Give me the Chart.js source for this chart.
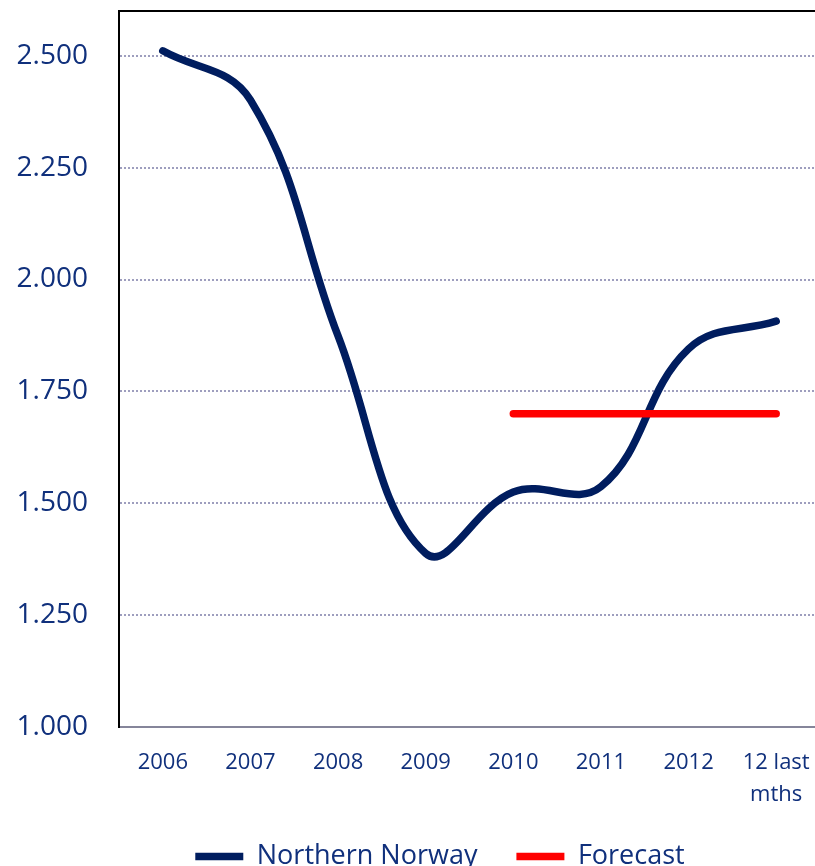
<!DOCTYPE html>
<html lang="en">
<head>
  <meta charset="UTF-8">
  <title>Northern Norway</title>
  <style>
    html, body {
      margin: 0;
      padding: 0;
      background: #fff;
      overflow: hidden;
    }
    #wrap {
      width: 820px;
      height: 880px;
    }
  </style>
</head>
<body>
  <div id="wrap">
    <canvas id="grafico"></canvas>
  </div>

  <script src="https://cdn.jsdelivr.net/npm/chart.js"></script>
  <script>
    // data
    const categorias = ['2006', '2007', '2008', '2009', '2010', '2011', '2012', ['12 last', 'mths']];
    const northernNorway = [2511, 2401, 1874, 1388, 1525, 1537, 1845, 1907];
    const forecast = [null, null, null, null, 1700, 1700, 1700, 1700];
    const yTicks = [1000, 1250, 1500, 1750, 2000, 2250, 2500];

    const navy = '#001d5f';
    const textColor = '#10307c';
    const fonte = "'Open Sans', sans-serif";

    // 2500 -> "2.500"
    function formatNum(v) {
      const mil = Math.floor(v / 1000);
      const resto = String(v % 1000).padStart(3, '0');
      return mil + '.' + resto;
    }

    // black top frame line
    const topBorder = {
      id: 'topBorder',
      beforeDatasetsDraw(chart) {
        const { ctx, chartArea } = chart;
        ctx.save();
        ctx.strokeStyle = '#000';
        ctx.lineWidth = 2;
        ctx.beginPath();
        ctx.moveTo(chartArea.left - 1, chartArea.top);
        ctx.lineTo(chartArea.right, chartArea.top);
        ctx.stroke();
        ctx.restore();
      }
    };

    // legend sits a bit right of the canvas centre
    const legendShift = {
      id: 'legendShift',
      afterLayout(chart) {
        if (chart.legend) chart.legend.left = 60;
      }
    };

    new Chart(document.getElementById('grafico'), {
      type: 'line',
      data: {
        labels: categorias,
        datasets: [
          {
            label: 'Northern Norway',
            data: northernNorway,
            borderColor: navy,
            backgroundColor: navy,
            borderWidth: 7.5,
            borderCapStyle: 'round',
            tension: 0.4,
            pointRadius: 0,
            order: 2
          },
          {
            label: 'Forecast',
            data: forecast,
            borderColor: '#ff0000',
            backgroundColor: '#ff0000',
            borderWidth: 7.5,
            borderCapStyle: 'round',
            tension: 0,
            pointRadius: 0,
            order: 1
          }
        ]
      },
      options: {
        responsive: true,
        maintainAspectRatio: false,
        animation: false,
        layout: {
          padding: { left: 0, right: 0, top: 11, bottom: 0 }
        },
        scales: {
          x: {
            offset: true,
            grid: { display: false, drawTicks: false },
            border: { color: '#85859a', width: 2 },
            ticks: {
              color: textColor,
              font: { family: fonte, size: 22, lineHeight: 1.45 },
              maxRotation: 0,
              autoSkip: false,
              padding: 20
            },
            afterFit(scale) {
              scale.height = 77;
              scale.paddingLeft = 0;
              scale.paddingRight = 0;
            }
          },
          y: {
            min: 1000,
            max: 2600,
            grid: { color: '#9e9ebe', lineWidth: 2, drawTicks: false },
            border: { color: '#000', width: 2, dash: [2, 2] },
            ticks: {
              color: textColor,
              font: { family: fonte, size: 28 },
              padding: 31,
              callback: v => formatNum(v)
            },
            afterBuildTicks(scale) {
              scale.ticks = yTicks.map(v => ({ value: v }));
            },
            afterFit(scale) {
              scale.width = 119;
              scale.paddingTop = 0;
              scale.paddingBottom = 0;
            }
          }
        },
        plugins: {
          legend: {
            position: 'bottom',
            labels: {
              color: textColor,
              font: { family: fonte, size: 27 },
              usePointStyle: true,
              pointStyle: 'line',
              pointStyleWidth: 48,
              padding: 39,
              sort: (a, b) => a.datasetIndex - b.datasetIndex
            }
          },
          tooltip: { enabled: false }
        }
      },
      plugins: [topBorder, legendShift]
    });
  </script>
</body>
</html>
